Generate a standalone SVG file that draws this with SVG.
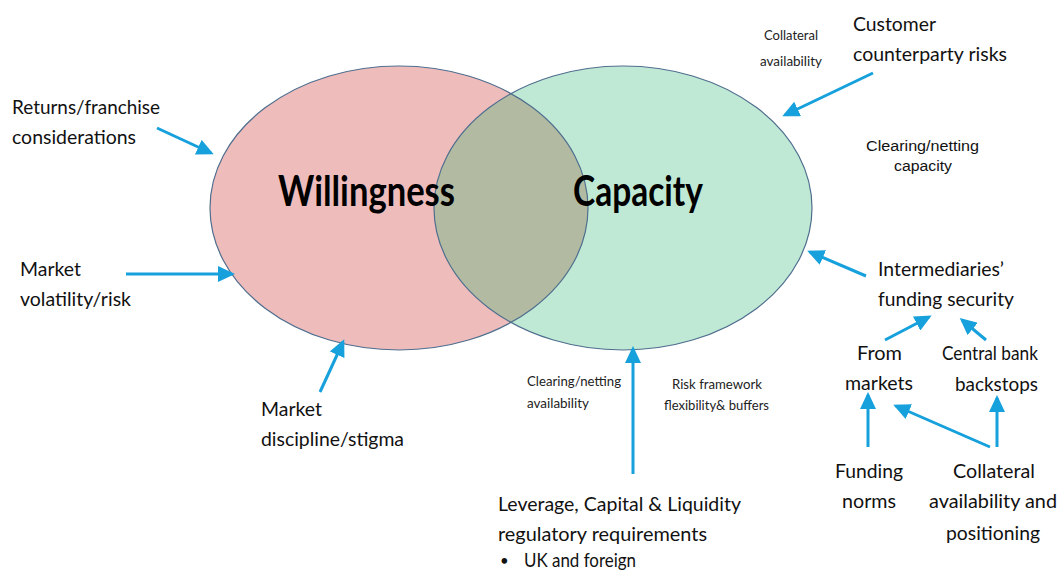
<svg xmlns="http://www.w3.org/2000/svg" width="1058" height="572" viewBox="0 0 1058 572">
<style>
.t{font-family:Lato,"Open Sans","Liberation Sans",sans-serif;font-size:20px;fill:#111}
.s{font-family:Lato,"Open Sans","Liberation Sans",sans-serif;font-size:13px;fill:#222}
.a{font-family:"Liberation Sans",Arial,sans-serif;font-size:14px;fill:#111}
.big{font-family:Lato,"Open Sans","Liberation Sans",sans-serif;font-size:42px;font-weight:bold;fill:#000}
.arr{stroke:#16A0DC;stroke-width:3;fill:none;marker-end:url(#ah)}
.edge{fill:none;stroke:#4F6E8E;stroke-width:1.2}
</style>
<defs>
<marker id="ah" markerUnits="userSpaceOnUse" markerWidth="18" markerHeight="16" refX="14" refY="8" orient="auto">
<path d="M0,0 L17,8 L0,16 z" fill="#16A0DC"/>
</marker>
<clipPath id="clipL"><ellipse cx="399" cy="208" rx="189" ry="142"/></clipPath>
</defs>
<rect width="1058" height="572" fill="#fff"/>
<g id="willingness">
<ellipse cx="399" cy="208" rx="189" ry="142" fill="#EFBCBC"/>
</g>
<g id="capacity">
<ellipse cx="623" cy="208" rx="189" ry="142" fill="#BFE9D4"/>
</g>
<g id="overlap">
<ellipse cx="623" cy="208" rx="189" ry="142" fill="#B2BBA2" clip-path="url(#clipL)"/>
<ellipse class="edge" cx="399" cy="208" rx="189" ry="142"/>
<ellipse class="edge" cx="623" cy="208" rx="189" ry="142"/>
<text class="big" x="278" y="206" textLength="177" lengthAdjust="spacingAndGlyphs">Willingness</text>
<text class="big" x="573" y="206" textLength="130" lengthAdjust="spacingAndGlyphs">Capacity</text>
</g>
<g id="connectors">
<line class="arr" x1="157" y1="128" x2="211" y2="153"/>
<line class="arr" x1="126" y1="274" x2="232" y2="274"/>
<line class="arr" x1="320" y1="392" x2="343" y2="342"/>
<line class="arr" x1="873" y1="73" x2="785" y2="115"/>
<line class="arr" x1="866" y1="276" x2="810" y2="252"/>
<line class="arr" x1="885" y1="340" x2="929" y2="317"/>
<line class="arr" x1="986" y1="340" x2="962" y2="320"/>
<line class="arr" x1="868" y1="447" x2="868" y2="395"/>
<line class="arr" x1="997" y1="447" x2="997" y2="398"/>
<line class="arr" x1="990" y1="447" x2="896" y2="406"/>
<line class="arr" x1="633" y1="474" x2="633" y2="349"/>
</g>
<g id="returns">
<text class="t" x="12" y="114" textLength="148" lengthAdjust="spacingAndGlyphs">Returns/franchise</text>
<text class="t" x="12" y="144" textLength="124" lengthAdjust="spacingAndGlyphs">considerations</text>
</g>
<g id="volatility">
<text class="t" x="20" y="276" textLength="61" lengthAdjust="spacingAndGlyphs">Market</text>
<text class="t" x="20" y="306" textLength="111" lengthAdjust="spacingAndGlyphs">volatility/risk</text>
</g>
<g id="discipline">
<text class="t" x="261" y="416" textLength="61" lengthAdjust="spacingAndGlyphs">Market</text>
<text class="t" x="261" y="446" textLength="143" lengthAdjust="spacingAndGlyphs">discipline/stigma</text>
</g>
<g id="collateral-top">
<text class="s" x="764" y="40" textLength="54" lengthAdjust="spacingAndGlyphs">Collateral</text>
<text class="s" x="760" y="66" textLength="62" lengthAdjust="spacingAndGlyphs">availability</text>
</g>
<g id="customer">
<text class="t" x="853" y="31" textLength="83" lengthAdjust="spacingAndGlyphs">Customer</text>
<text class="t" x="853" y="61" textLength="154" lengthAdjust="spacingAndGlyphs">counterparty risks</text>
</g>
<g id="clearing-capacity">
<text class="a" x="866" y="151" textLength="113" lengthAdjust="spacingAndGlyphs">Clearing/netting</text>
<text class="a" x="894" y="171" textLength="58" lengthAdjust="spacingAndGlyphs">capacity</text>
</g>
<g id="intermediaries">
<text class="t" x="878" y="276" textLength="126" lengthAdjust="spacingAndGlyphs">Intermediaries’</text>
<text class="t" x="878" y="306" textLength="136" lengthAdjust="spacingAndGlyphs">funding security</text>
</g>
<g id="from-markets">
<text class="t" x="857" y="360" textLength="45" lengthAdjust="spacingAndGlyphs">From</text>
<text class="t" x="845" y="390" textLength="68" lengthAdjust="spacingAndGlyphs">markets</text>
</g>
<g id="central-bank">
<text class="t" x="942" y="360" textLength="96" lengthAdjust="spacingAndGlyphs">Central bank</text>
<text class="t" x="955" y="391" textLength="83" lengthAdjust="spacingAndGlyphs">backstops</text>
</g>
<g id="funding-norms">
<text class="t" x="835" y="478" textLength="68" lengthAdjust="spacingAndGlyphs">Funding</text>
<text class="t" x="842" y="508" textLength="54" lengthAdjust="spacingAndGlyphs">norms</text>
</g>
<g id="collateral-positioning">
<text class="t" x="953" y="478" textLength="82" lengthAdjust="spacingAndGlyphs">Collateral</text>
<text class="t" x="929" y="508" textLength="128" lengthAdjust="spacingAndGlyphs">availability and</text>
<text class="t" x="946" y="540" textLength="94" lengthAdjust="spacingAndGlyphs">positioning</text>
</g>
<g id="clearing-availability">
<text class="s" x="527" y="386" textLength="94" lengthAdjust="spacingAndGlyphs">Clearing/netting</text>
<text class="s" x="527" y="408" textLength="62" lengthAdjust="spacingAndGlyphs">availability</text>
</g>
<g id="risk-framework">
<text class="s" x="672" y="389" textLength="90" lengthAdjust="spacingAndGlyphs">Risk framework</text>
<text class="s" x="664" y="410" textLength="105" lengthAdjust="spacingAndGlyphs">flexibility&amp; buffers</text>
</g>
<g id="regulatory">
<text class="t" x="498" y="511" textLength="243" lengthAdjust="spacingAndGlyphs">Leverage, Capital &amp; Liquidity</text>
<text class="t" x="498" y="541" textLength="209" lengthAdjust="spacingAndGlyphs">regulatory requirements</text>
<text class="t" x="500" y="566" style="font-size:15px">•</text>
<text class="t" x="524" y="567" textLength="112" lengthAdjust="spacingAndGlyphs">UK and foreign</text>
</g>
</svg>
